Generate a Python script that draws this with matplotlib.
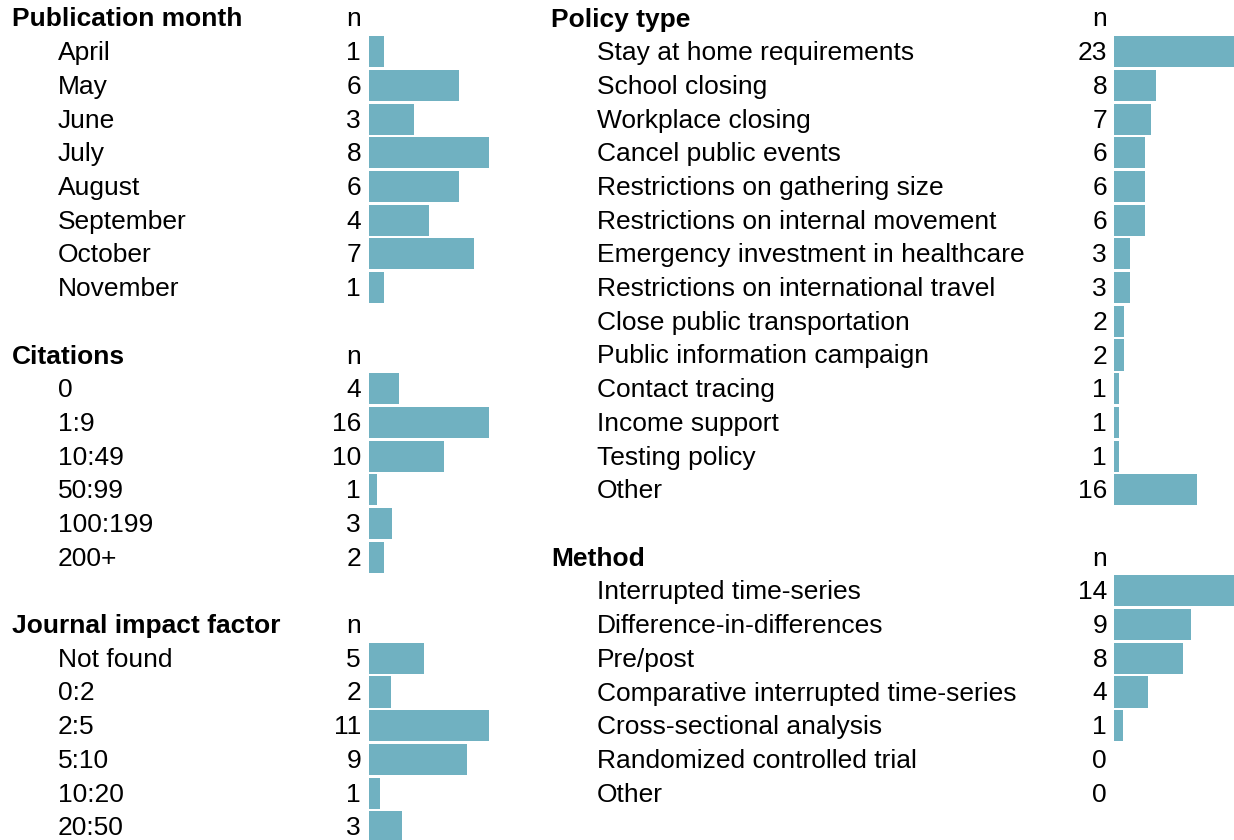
import matplotlib.pyplot as plt

# data
month_labels = ["April", "May", "June", "July", "August", "September", "October", "November"]
month_n = [1, 6, 3, 8, 6, 4, 7, 1]

citation_labels = ["0", "1:9", "10:49", "50:99", "100:199", "200+"]
citation_n = [4, 16, 10, 1, 3, 2]

impact_labels = ["Not found", "0:2", "2:5", "5:10", "10:20", "20:50"]
impact_n = [5, 2, 11, 9, 1, 3]

policy_labels = ["Stay at home requirements", "School closing", "Workplace closing",
                 "Cancel public events", "Restrictions on gathering size",
                 "Restrictions on internal movement", "Emergency investment in healthcare",
                 "Restrictions on international travel", "Close public transportation",
                 "Public information campaign", "Contact tracing", "Income support",
                 "Testing policy", "Other"]
policy_n = [23, 8, 7, 6, 6, 6, 3, 3, 2, 2, 1, 1, 1, 16]

method_labels = ["Interrupted time-series", "Difference-in-differences", "Pre/post",
                 "Comparative interrupted time-series", "Cross-sectional analysis",
                 "Randomized controlled trial", "Other"]
method_n = [14, 9, 8, 4, 1, 0, 0]

BAR_COLOR = "#70b1c1"
FS = 19
plt.rcParams["font.family"] = ["Liberation Sans", "DejaVu Sans"]

fig = plt.figure(figsize=(12.34, 8.4), dpi=100)
ax = fig.add_axes([0, 0, 1, 1])
ax.set_xlim(0, 1234)
ax.set_ylim(840, 0)
ax.axis("off")

ROW0 = 18      # y of first header
ROW_H = 33.7   # row spacing
BAR_W = 120    # width of the largest bar in each section
TXT_DY = 1.5   # text sits a touch lower than bar centre


def section(title, labels, values, start_row, x_head, x_lab, x_num, x_bar):
    y = ROW0 + start_row * ROW_H
    ax.text(x_head, y + TXT_DY, title, fontsize=FS, fontweight="bold", va="center", ha="left")
    ax.text(x_num, y + TXT_DY, "n", fontsize=FS, va="center", ha="right")
    vmax = max(values)
    for i, (lab, v) in enumerate(zip(labels, values)):
        yy = y + (i + 1) * ROW_H
        ax.text(x_lab, yy + TXT_DY, lab, fontsize=FS, va="center", ha="left")
        ax.text(x_num, yy + TXT_DY, str(v), fontsize=FS, va="center", ha="right")
        if v > 0:
            ax.barh(yy, v / vmax * BAR_W, left=x_bar, height=ROW_H * 0.92,
                    color=BAR_COLOR, edgecolor="none")


section("Publication month", month_labels, month_n, 0, 12, 58, 361, 369)
section("Citations", citation_labels, citation_n, 10, 12, 58, 361, 369)
section("Journal impact factor", impact_labels, impact_n, 18, 12, 58, 361, 369)
section("Policy type", policy_labels, policy_n, 0, 551, 597, 1107, 1114)
section("Method", method_labels, method_n, 16, 551, 597, 1107, 1114)

fig.savefig("out.png", dpi=100)
